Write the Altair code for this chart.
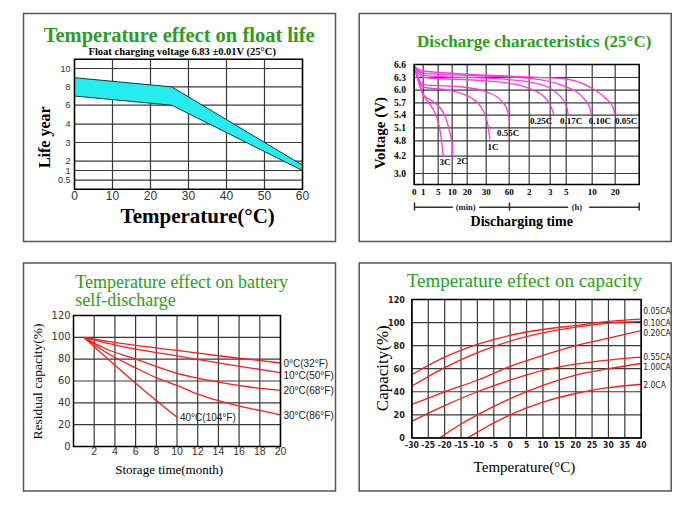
import altair as alt
import pandas as pd

# ---------------- data ----------------
# Panel 1: temperature effect on float life
float_temp = [0, 25.6, 60]
float_life_upper = [9.0, 8.0, 1.57]
float_life_lower = [7.0, 6.0, 1.0]
float_x_ticks = [0, 10, 20, 30, 40, 50, 60]
float_x_labels = ["0", "10", "20", "30", "40", "50", "60"]
float_y_ticks = [0.5, 1, 2, 3, 4, 6, 8, 10]
float_y_labels = ["0.5", "1", "2", "3", "4", "6", "8", "10"]

# Panel 2: discharge characteristics (time in minutes, voltage)
dis_rates = ["3C", "2C", "1C", "0.55C", "0.25C", "0.17C", "0.10C", "0.05C"]
dis_time = {
    "3C": [0, 1, 2.8, 4.5, 5.6, 6.2, 6.8],
    "2C": [0, 1, 4.1, 7.4, 9.2, 10.0, 10.3],
    "1C": [0, 1, 8.6, 22, 27.5, 31.7, 34.8],
    "0.55C": [0, 1, 18, 32, 50, 58, 61],
    "0.25C": [0, 1, 30, 90, 126, 165, 190, 208],
    "0.17C": [0, 1, 60, 146, 240, 305, 323],
    "0.10C": [0, 1, 120, 290, 477, 573, 592],
    "0.05C": [0, 1, 180, 290, 592, 931, 1148, 1190],
}
dis_volt = {
    "3C": [6.56, 5.9, 5.66, 5.38, 5.06, 4.78, 4.2],
    "2C": [6.56, 5.9, 5.7, 5.38, 4.98, 4.65, 4.2],
    "1C": [6.56, 6.07, 6.0, 5.82, 5.58, 5.22, 4.83],
    "0.55C": [6.56, 6.13, 6.07, 5.95, 5.74, 5.5, 5.24],
    "0.25C": [6.56, 6.3, 6.22, 6.12, 6.02, 5.82, 5.58, 5.4],
    "0.17C": [6.56, 6.35, 6.25, 6.15, 5.9, 5.61, 5.4],
    "0.10C": [6.56, 6.4, 6.28, 6.09, 5.86, 5.58, 5.4],
    "0.05C": [6.56, 6.45, 6.29, 6.27, 6.05, 5.82, 5.58, 5.4],
}
dis_label_time = [7.4, 16.7, 39, 58.7, 154, 358, 801, 1750]
dis_label_volt = [3.81, 3.85, 4.55, 4.98, 5.27, 5.27, 5.27, 5.27]
dis_x_ticks = [0, 1, 5, 10, 20, 30, 60, 120, 180, 300, 600, 1200]
dis_x_labels = ["0", "1", "5", "10", "20", "30", "60", "2", "3", "5", "10", "20"]
dis_y_ticks = [3.0, 4.2, 4.8, 5.1, 5.4, 5.7, 6.0, 6.3, 6.6]
dis_y_labels = ["3.0", "4.2", "4.8", "5.1", "5.4", "5.7", "6.0", "6.3", "6.6"]

# Panel 3: self-discharge (months, residual capacity %)
sd_temps = ["0°C(32°F)", "10°C(50°F)", "20°C(68°F)", "30°C(86°F)", "40°C(104°F)"]
sd_month = {
    "0°C(32°F)": [1, 5, 10, 15, 20],
    "10°C(50°F)": [1, 5, 10, 15, 20],
    "20°C(68°F)": [1, 3, 6, 10, 14, 17, 20],
    "30°C(86°F)": [1, 3, 6, 8, 10, 12, 14, 16, 18, 20],
    "40°C(104°F)": [1, 4, 7, 10.06],
}
sd_cap = {
    "0°C(32°F)": [100, 94, 88, 82, 76.5],
    "10°C(50°F)": [100, 91, 83, 75, 67.7],
    "20°C(68°F)": [100, 90, 80, 67, 59, 54.5, 51.4],
    "30°C(86°F)": [100, 87, 72, 63, 56, 48, 42, 37, 33, 29],
    "40°C(104°F)": [100, 74.5, 50, 26.3],
}
sd_label_month = [20, 20, 20, 20, 10]
sd_label_cap = [76, 65, 50.5, 27.5, 26.3]
sd_x_ticks = [2, 4, 6, 8, 10, 12, 14, 16, 18, 20]
sd_x_labels = ["2", "4", "6", "8", "10", "12", "14", "16", "18", "20"]
sd_y_ticks = [0, 20, 40, 60, 80, 100, 120]
sd_y_labels = ["0", "20", "40", "60", "80", "100", "120"]

# Panel 4: temperature effect on capacity
cap_rates = ["0.05CA", "0.10CA", "0.20CA", "0.55CA", "1.00CA", "2.0CA"]
cap_temp = {
    "0.05CA": [-30, -20, -10, 0, 10, 20, 30, 40],
    "0.10CA": [-30, -20, -10, 0, 10, 20, 30, 40],
    "0.20CA": [-30, -20, -10, 0, 10, 20, 30, 40],
    "0.55CA": [-30, -20, -10, 0, 10, 20, 30, 40],
    "1.00CA": [-21.5, -15, -10, 0, 10, 20, 30, 40],
    "2.0CA": [-13, -10, -5, 0, 10, 20, 30, 40],
}
cap_val = {
    "0.05CA": [55, 70, 81, 89, 94, 97.5, 101, 103],
    "0.10CA": [45, 61, 74, 84, 91, 96, 99.5, 101],
    "0.20CA": [29, 40, 50, 62, 71.5, 80, 86.5, 93],
    "0.55CA": [14.5, 28, 40, 50, 58.5, 64, 67.5, 70],
    "1.00CA": [0, 12, 20, 34, 45.5, 54.5, 60, 64.5],
    "2.0CA": [0, 5, 13, 20, 31, 38.5, 43.5, 46.5],
}
cap_label_temp = [40, 40, 40, 40, 40, 40]
cap_label_val = [110, 100, 91, 70, 61.6, 46.3]
cap_x_ticks = [-30, -25, -20, -15, -10, -5, 0, 5, 10, 15, 20, 25, 30, 35, 40]
cap_x_labels = ["-30", "-25", "-20", "-15", "-10", "-5", "0", "5", "10", "15", "20",
                "25", "30", "35", "40"]
cap_y_ticks = [0, 20, 40, 60, 80, 100, 120]
cap_y_labels = ["0", "20", "40", "60", "80", "100", "120"]

# ---------------- styles ----------------
GREEN = "#2a9e1e"
GRID = "#3a3a3a"
MAGENTA = "#fa3ce0"
RED = "#ff1c1c"
SERIF = "Liberation Serif, Times New Roman, serif"
SANS = "Liberation Sans, Arial, sans-serif"
NARROW = "Liberation Sans Narrow, Arial Narrow, DejaVu Sans Condensed, Liberation Sans, sans-serif"
ONE = pd.DataFrame({"t": [""]})
PANEL_W, PANEL_H = 312, 228


def txt(text, x, y, size, font=SERIF, weight="normal", color="black", angle=0,
        align="center", baseline="alphabetic"):
    return alt.Chart(pd.DataFrame({"t": [text]})).mark_text(
        font=font, fontSize=size, fontWeight=weight, color=color, angle=angle,
        align=align, baseline=baseline
    ).encode(text="t:N", x=alt.value(x), y=alt.value(y))


def frame(x1, y1, x2, y2, color="black", w=1.5):
    return alt.Chart(ONE).mark_rect(fill="transparent", stroke=color, strokeWidth=w).encode(
        x=alt.value(x1), x2=alt.value(x2), y=alt.value(y1), y2=alt.value(y2))


def hseg(x1, x2, y, color="#333333", w=1.5):
    return alt.Chart(ONE).mark_rule(color=color, strokeWidth=w).encode(
        x=alt.value(x1), x2=alt.value(x2), y=alt.value(y))


def vseg(x, y1, y2, color="#333333", w=1.5):
    return alt.Chart(ONE).mark_rule(color=color, strokeWidth=w).encode(
        x=alt.value(x), y=alt.value(y1), y2=alt.value(y2))


def vgrid(values, xs, y1, y2):
    return alt.Chart(pd.DataFrame({"v": values})).mark_rule(color=GRID, strokeWidth=1.2).encode(
        x=alt.X("v:Q", scale=xs, axis=None), y=alt.value(y1), y2=alt.value(y2))


def hgrid(values, ys, x1, x2):
    return alt.Chart(pd.DataFrame({"v": values})).mark_rule(color=GRID, strokeWidth=1.2).encode(
        y=alt.Y("v:Q", scale=ys, axis=None), x=alt.value(x1), x2=alt.value(x2))


def xlabels(values, labels, xs, y, font, size, weight="normal", color="#333333"):
    return alt.Chart(pd.DataFrame({"v": values, "lab": labels})).mark_text(
        font=font, fontSize=size, fontWeight=weight, color=color, align="center",
        baseline="alphabetic").encode(x=alt.X("v:Q", scale=xs, axis=None), y=alt.value(y),
                                      text="lab:N")


def ylabels(values, labels, ys, x, font, size, weight="normal", color="#333333"):
    return alt.Chart(pd.DataFrame({"v": values, "lab": labels})).mark_text(
        font=font, fontSize=size, fontWeight=weight, color=color, align="right",
        baseline="middle").encode(y=alt.Y("v:Q", scale=ys, axis=None), x=alt.value(x),
                                  text="lab:N")


def long_df(names, xs, ys, xname, yname):
    rows = []
    for n in names:
        for i, (a, b) in enumerate(zip(xs[n], ys[n])):
            rows.append({"s": n, "i": i, xname: a, yname: b})
    return pd.DataFrame(rows)


def shift(vals, d):
    return [v + d for v in vals]


# ---------------- panel 1 ----------------
X0, Y0, W, H = 51, 45.7, 228, 130
xs1 = alt.Scale(domain=[0, 60], range=[X0, X0 + W], nice=False, zero=False)
ys1 = alt.Scale(domain=[0, 0.5, 1, 2, 3, 4, 6, 8, 10, 11],
                range=shift([130, 121, 111.3, 102, 83.3, 65, 46, 27.7, 9.3, 0], Y0),
                nice=False, zero=False)
df1 = pd.DataFrame({"temp": float_temp, "upper": float_life_upper, "lower": float_life_lower})
band = alt.Chart(df1).mark_area(fill="#26eded", stroke="#0c3c3c", strokeWidth=1, fillOpacity=1).encode(
    x=alt.X("temp:Q", scale=xs1, axis=None),
    y=alt.Y("upper:Q", scale=ys1, axis=None),
    y2="lower:Q")

p1 = alt.layer(
    vgrid(float_x_ticks, xs1, Y0, Y0 + H),
    hgrid(float_y_ticks, ys1, X0, X0 + W),
    band,
    frame(X0, Y0, X0 + W, Y0 + H),
    xlabels(float_x_ticks, float_x_labels, xs1, Y0 + H + 11, SANS, 12),
    ylabels(float_y_ticks, float_y_labels, ys1, X0 - 4, SANS, 9),
    txt("Temperature effect on float life", 155.7, 28.4, 20.5, weight="bold", color=GREEN),
    txt("Float charging voltage  6.83 ±0.01V (25°C)", 158.7, 41.6, 10.5, weight="bold"),
    txt("Life year", 21.2, 123.7, 16, weight="bold", angle=270, baseline="middle"),
    txt("Temperature(°C)", 174.2, 209.7, 21, weight="bold"),
).properties(width=PANEL_W, height=PANEL_H)

# ---------------- panel 2 ----------------
X0, Y0, W, H = 55, 51, 225, 120
xs2 = alt.Scale(domain=[0, 1, 5, 10, 20, 30, 60, 120, 180, 300, 600, 1200, 2400],
                range=shift([0, 9, 24, 38, 53, 72, 95, 115, 136, 152, 178, 201, 225], X0),
                nice=False, zero=False)
ys2 = alt.Scale(domain=[2.6, 3.0, 4.2, 4.8, 5.1, 5.4, 5.7, 6.0, 6.3, 6.6],
                range=shift([120, 109, 91.7, 76.3, 63.3, 50.7, 38.3, 25.7, 13, 0], Y0),
                nice=False, zero=False)
df2 = long_df(dis_rates, dis_time, dis_volt, "t", "v")
lab2 = pd.DataFrame({"s": dis_rates, "t": dis_label_time, "v": dis_label_volt})
lines2 = alt.Chart(df2).mark_line(color=MAGENTA, strokeWidth=1.3, interpolate="monotone").encode(
    x=alt.X("t:Q", scale=xs2, axis=None), y=alt.Y("v:Q", scale=ys2, axis=None),
    detail="s:N", order="i:Q")
labels2 = alt.Chart(lab2).mark_text(font=SERIF, fontWeight="bold", fontSize=9, color="black",
                                    baseline="middle").encode(
    x=alt.X("t:Q", scale=xs2, axis=None), y=alt.Y("v:Q", scale=ys2, axis=None), text="s:N")

p2 = alt.layer(
    vgrid(dis_x_ticks, xs2, Y0, Y0 + H),
    hgrid(dis_y_ticks, ys2, X0, X0 + W),
    lines2,
    labels2,
    frame(X0, Y0, X0 + W, Y0 + H),
    xlabels(dis_x_ticks, dis_x_labels, xs2, Y0 + H + 10.4, SERIF, 9, "bold", "black"),
    ylabels(dis_y_ticks, dis_y_labels, ys2, X0 - 8.3, SERIF, 9.5, "bold", "black"),
    hseg(55, 93.7, 193.7), hseg(120, 209, 193.7), hseg(230, 280, 193.7),
    vseg(55.3, 189, 197), vseg(150.3, 189, 197), vseg(280, 189, 197),
    txt("(min)", 106.5, 196.4, 8.5, weight="bold", color="#1c1c50"),
    txt("(h)", 217.7, 196.4, 8.5, weight="bold", color="#1c1c50"),
    txt("Discharge characteristics (25°C)", 175, 33.7, 17, weight="bold", color=GREEN),
    txt("Voltage (V)", 21, 119.7, 15, weight="bold", angle=270, baseline="middle"),
    txt("Discharging time", 162.5, 212.7, 14, weight="bold"),
).properties(width=PANEL_W, height=PANEL_H)

# ---------------- panel 3 ----------------
X0, Y0, W, H = 50, 52.5, 207, 131
xs3 = alt.Scale(domain=[0, 20], range=[X0, X0 + W], nice=False, zero=False)
ys3 = alt.Scale(domain=[0, 120], range=[Y0 + H, Y0], nice=False, zero=False)
df3 = long_df(sd_temps, sd_month, sd_cap, "m", "c")
lab3 = pd.DataFrame({"s": sd_temps, "m": sd_label_month, "c": sd_label_cap})
lines3 = alt.Chart(df3).mark_line(color=RED, strokeWidth=1.3, interpolate="monotone").encode(
    x=alt.X("m:Q", scale=xs3, axis=None), y=alt.Y("c:Q", scale=ys3, axis=None),
    detail="s:N", order="i:Q")
labels3 = alt.Chart(lab3).mark_text(font=SANS, fontSize=10, color="#222222", align="left",
                                    baseline="middle", dx=3).encode(
    x=alt.X("m:Q", scale=xs3, axis=None), y=alt.Y("c:Q", scale=ys3, axis=None), text="s:N")

p3 = alt.layer(
    vgrid(sd_x_ticks, xs3, Y0, Y0 + H),
    hgrid(sd_y_ticks, ys3, X0, X0 + W),
    lines3,
    labels3,
    frame(X0, Y0, X0 + W, Y0 + H),
    xlabels(sd_x_ticks, sd_x_labels, xs3, Y0 + H + 8, SANS, 10.5),
    ylabels(sd_y_ticks, sd_y_labels, ys3, X0 - 3, NARROW, 11),
    txt("Temperature effect on battery", 51.7, 25.2, 18, color=GREEN, align="left"),
    txt("self-discharge", 51.7, 43.2, 18, color=GREEN, align="left"),
    txt("Residual capacity(%)", 14.2, 118.5, 13.5, angle=270, baseline="middle"),
    txt("Storage time(month)", 91.7, 210.5, 13, align="left"),
).properties(width=PANEL_W, height=PANEL_H)

# ---------------- panel 4 ----------------
X0, Y0, W, H = 52.7, 36.5, 229.3, 138.4
xs4 = alt.Scale(domain=[-30, 40], range=[X0, X0 + W], nice=False, zero=False)
ys4 = alt.Scale(domain=[0, 120], range=[Y0 + H, Y0], nice=False, zero=False)
df4 = long_df(cap_rates, cap_temp, cap_val, "tc", "cp")
lab4 = pd.DataFrame({"s": cap_rates, "tc": cap_label_temp, "cp": cap_label_val})
lines4 = alt.Chart(df4).mark_line(color=RED, strokeWidth=1.3, interpolate="monotone").encode(
    x=alt.X("tc:Q", scale=xs4, axis=None), y=alt.Y("cp:Q", scale=ys4, axis=None),
    detail="s:N", order="i:Q")
labels4 = alt.Chart(lab4).mark_text(font=NARROW, fontSize=8.5, color="#222222", align="left",
                                    baseline="middle", dx=2).encode(
    x=alt.X("tc:Q", scale=xs4, axis=None), y=alt.Y("cp:Q", scale=ys4, axis=None), text="s:N")

p4 = alt.layer(
    vgrid(cap_x_ticks, xs4, Y0, Y0 + H),
    hgrid(cap_y_ticks, ys4, X0, X0 + W),
    lines4,
    labels4,
    frame(X0, Y0, X0 + W, Y0 + H),
    xlabels(cap_x_ticks, cap_x_labels, xs4, Y0 + H + 10, NARROW, 8.5, "bold", "#222222"),
    ylabels(cap_y_ticks, cap_y_labels, ys4, X0 - 7, NARROW, 9, "bold", "#222222"),
    txt("Temperature effect on capacity", 165.2, 23.9, 19, color=GREEN),
    txt("Capacity(%)", 24, 105.2, 17, angle=270, baseline="middle"),
    txt("Temperature(°C)", 165.2, 208.9, 15),
).properties(width=PANEL_W, height=PANEL_H)

# ---------------- assemble ----------------
chart = alt.concat(p1, p2, p3, p4, columns=2, spacing={"row": 21.5, "column": 23.7},
                   bounds="flush").properties(
    padding={"left": 14.5, "top": 4.5, "right": 4, "bottom": 4},
    background="white",
).configure_view(stroke="#555555", strokeWidth=1.5)

chart.save("out.html", embed_options={"renderer": "svg", "actions": False})
